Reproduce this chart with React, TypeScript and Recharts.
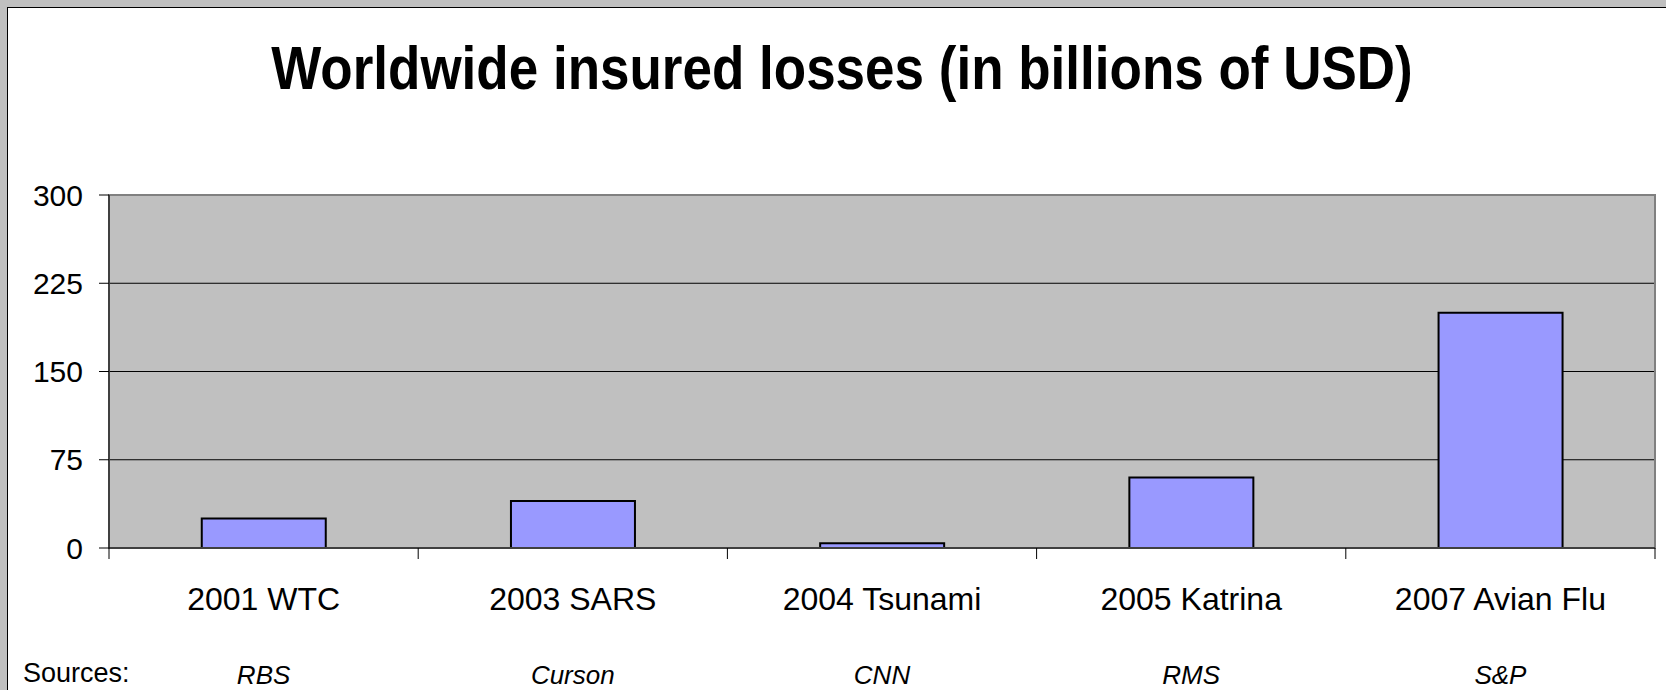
import { Bar, BarChart, CartesianGrid, ReferenceArea, XAxis, YAxis } from "recharts";

const CATEGORIES = ["2001 WTC", "2003 SARS", "2004 Tsunami", "2005 Katrina", "2007 Avian Flu"];
const LOSSES = [25, 40, 4, 60, 200];
const SOURCES = ["RBS", "Curson", "CNN", "RMS", "S&P"];
const Y_TICKS = [0, 75, 150, 225, 300];

const W = 1666;
const H = 690;
const M = { top: 195, right: 11, bottom: 0, left: 0 };
const Y_W = 109;
const BAND = (W - M.left - M.right - Y_W) / CATEGORIES.length;
const FONT = "Arial, 'Liberation Sans', sans-serif";

const data = CATEGORIES.map((name, i) => ({ name, loss: LOSSES[i] }));

function XTick(props: any) {
  const { x, y, payload, index } = props;
  const half = BAND / 2;
  return (
    <g>
      <line x1={x - half} x2={x - half} y1={y} y2={y + 11} stroke="#000" />
      {index === CATEGORIES.length - 1 && <line x1={x + half} x2={x + half} y1={y} y2={y + 11} stroke="#000" />}
      <text x={x} y={y + 62} textAnchor="middle" fontSize={32} fontFamily={FONT} fill="#000">
        {payload.value}
      </text>
      <text x={x} y={y + 136} textAnchor="middle" fontSize={26} fontStyle="italic" fontFamily={FONT} fill="#000">
        {SOURCES[index]}
      </text>
    </g>
  );
}

export default function App() {
  return (
    <div style={{ position: "absolute", left: 0, top: 0, width: W, height: H, background: "#c0c0c0", overflow: "hidden" }}>
      <div
        style={{
          position: "absolute", left: 7, top: 7, right: 0, bottom: 0,
          background: "#fff", borderTop: "1px solid #000", borderLeft: "1px solid #000",
        }}
      />
      <div style={{ position: "absolute", left: 0, top: 0 }}>
        <BarChart width={W} height={H} data={data} margin={M} barCategoryGap="30%">
          <CartesianGrid vertical={false} stroke="#000" fill="#c0c0c0" fillOpacity={1} />
          <ReferenceArea y1={0} y2={300} fill="none" stroke="#808080" strokeWidth={2} />
          <XAxis
            dataKey="name"
            interval={0}
            height={142}
            tickLine={false}
            tickSize={0}
            tickMargin={0}
            axisLine={{ stroke: "#404040", strokeWidth: 2 }}
            tick={<XTick />}
          />
          <YAxis
            width={Y_W}
            domain={[0, 300]}
            ticks={Y_TICKS}
            tickSize={10}
            tickMargin={16}
            axisLine={{ stroke: "#000" }}
            tickLine={{ stroke: "#000" }}
            tick={{ fontSize: 30, fill: "#000", fontFamily: FONT }}
          />
          <Bar dataKey="loss" fill="#9999ff" stroke="#000" strokeWidth={2} isAnimationActive={false} />
        </BarChart>
      </div>
      <svg width={W} height={H} style={{ position: "absolute", left: 0, top: 0, pointerEvents: "none" }}>
        <text
          x={842}
          y={89}
          textAnchor="middle"
          fontSize={53}
          fontWeight="bold"
          fontFamily={FONT}
          fill="#000"
          transform="translate(0 89) scale(1 1.15) translate(0 -89)"
        >
          Worldwide insured losses (in billions of USD)
        </text>
        <text x={23} y={682} fontSize={27} fontFamily={FONT} fill="#000">
          Sources:
        </text>
      </svg>
    </div>
  );
}
